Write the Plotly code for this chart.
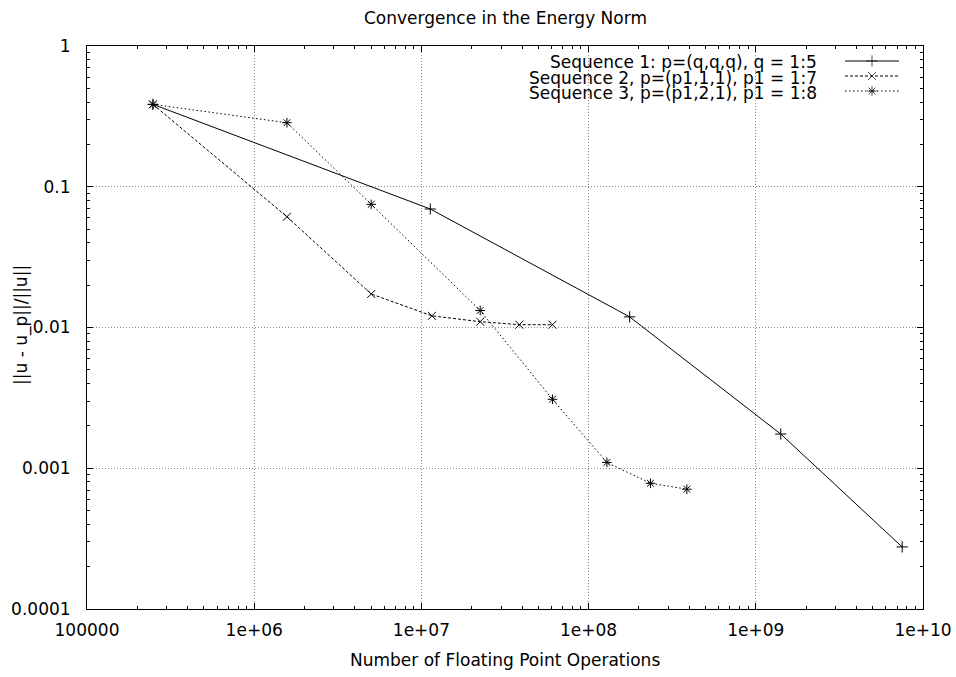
import plotly.graph_objects as go

# ---- data ----
seq1_flops = [2.48e5, 1.13e7, 1.76e8, 1.41e9, 7.51e9]
seq1_err = [0.385, 0.0695, 0.0119, 0.00175, 0.000276]

seq2_flops = [2.48e5, 1.57e6, 5.01e6, 1.156e7, 2.247e7, 3.85e7, 6.08e7]
seq2_err = [0.385, 0.0612, 0.0173, 0.0121, 0.0110, 0.01047, 0.01047]

seq3_flops = [2.48e5, 1.57e6, 5.01e6, 2.247e7, 6.08e7, 1.287e8, 2.344e8, 3.87e8]
seq3_err = [0.385, 0.285, 0.0750, 0.0132, 0.00309, 0.00110, 0.000782, 0.00071]

series_names = [
    "Sequence 1: p=(q,q,q), q = 1:5",
    "Sequence 2, p=(p1,1,1), p1 = 1:7",
    "Sequence 3, p=(p1,2,1), p1 = 1:8",
]

x_tickvals = [1e5, 1e6, 1e7, 1e8, 1e9, 1e10]
x_ticktext = ["100000", "1e+06", "1e+07", "1e+08", "1e+09", "1e+10"]
y_tickvals = [1e-4, 1e-3, 1e-2, 1e-1, 1]
y_ticktext = ["0.0001", "0.001", "0.01", "0.1", "1"]

title_text = "Convergence in the Energy Norm"
x_title = "Number of Floating Point Operations"
y_title = "||u - u_p||/||u||"

# ---- styling ----
FONT = "DejaVu Sans, Liberation Sans, Arial, sans-serif"
FS = 17
W, H = 956, 677
L, R, T, B = 87, 923, 46, 609  # plot area in page pixels
PW, PH = R - L, B - T

styles = [
    dict(dash="solid", symbol="cross-thin"),
    dict(dash="3px,2px", symbol="x-thin"),
    dict(dash="1.5px,2.5px", symbol="asterisk-open"),
]
data = [(seq1_flops, seq1_err), (seq2_flops, seq2_err), (seq3_flops, seq3_err)]

fig = go.Figure()
for (xs, ys), st, nm in zip(data, styles, series_names):
    fig.add_trace(go.Scatter(
        x=xs, y=ys, mode="lines+markers", name=nm, showlegend=False,
        line=dict(color="black", width=1, dash=st["dash"]),
        marker=dict(symbol=st["symbol"], size=8, color="black",
                    line=dict(color="black", width=1)),
    ))

# ---- manual legend (gnuplot style, tight rows) ----
def px_x(p):
    return (p - L) / PW

def px_y(p):
    return (B - p) / PH

row_y = [61, 76, 91]
key_x0, key_x1 = px_x(845), px_x(899)
for st, nm, ry in zip(styles, series_names, row_y):
    yy = px_y(ry)
    fig.add_trace(go.Scatter(
        x=[key_x0, (key_x0 + key_x1) / 2, key_x1], y=[yy, yy, yy],
        xaxis="x2", yaxis="y2", mode="lines+markers", showlegend=False,
        hoverinfo="skip",
        line=dict(color="black", width=1, dash=st["dash"]),
        marker=dict(symbol=st["symbol"], size=[0, 8, 0], color="black",
                    line=dict(color="black", width=1)),
    ))
    fig.add_annotation(
        x=px_x(819), y=px_y(ry + 1.5), xref="paper", yref="paper", text=nm,
        showarrow=False, xanchor="right", yanchor="middle",
        font=dict(family=FONT, size=FS, color="black"),
    )

# titles
fig.add_annotation(x=0.5, y=px_y(18), xref="paper", yref="paper",
                   text=title_text, showarrow=False, xanchor="center",
                   yanchor="middle", font=dict(family=FONT, size=FS, color="black"))
fig.add_annotation(x=0.5, y=px_y(660), xref="paper", yref="paper",
                   text=x_title, showarrow=False, xanchor="center",
                   yanchor="middle", font=dict(family=FONT, size=FS, color="black"))
fig.add_annotation(x=px_x(21), y=px_y(325), xref="paper", yref="paper",
                   text=y_title, showarrow=False, textangle=-90,
                   xanchor="center", yanchor="middle",
                   font=dict(family=FONT, size=FS, color="black"))

axis_common = dict(
    showline=True, linecolor="black", linewidth=1, mirror="allticks",
    ticks="inside", ticklen=6, tickcolor="black", tickwidth=1,
    showgrid=True, gridcolor="#8a8a8a", griddash="1px,2px", gridwidth=1,
    zeroline=False, tickmode="array", automargin=False,
    ticklabeloverflow="allow",
    tickfont=dict(family=FONT, size=FS, color="black"),
    minor=dict(ticks="inside", ticklen=3, tickcolor="black", tickwidth=1,
               showgrid=False, dtick="D1"),
)

fig.update_layout(
    width=W, height=H, autosize=False,
    margin=dict(l=L, r=W - R, t=T, b=H - B, pad=0, autoexpand=False),
    paper_bgcolor="white", plot_bgcolor="white",
    showlegend=False,
    xaxis=dict(type="log", range=[5, 10], tickvals=x_tickvals,
               ticktext=x_ticktext, ticklabelstandoff=6, **axis_common),
    yaxis=dict(type="log", range=[-4, 0], tickvals=y_tickvals,
               ticktext=y_ticktext, ticklabelstandoff=12, **axis_common),
    xaxis2=dict(overlaying="x", range=[0, 1], visible=False, fixedrange=True),
    yaxis2=dict(overlaying="y", range=[0, 1], visible=False, fixedrange=True),
)

# remove the page's default body margin so the 956x677 figure fills the window
fig.write_html(
    "out.html",
    config={"responsive": False, "displayModeBar": False},
    post_script="document.body.style.margin='0';document.body.style.overflow='hidden';",
)
